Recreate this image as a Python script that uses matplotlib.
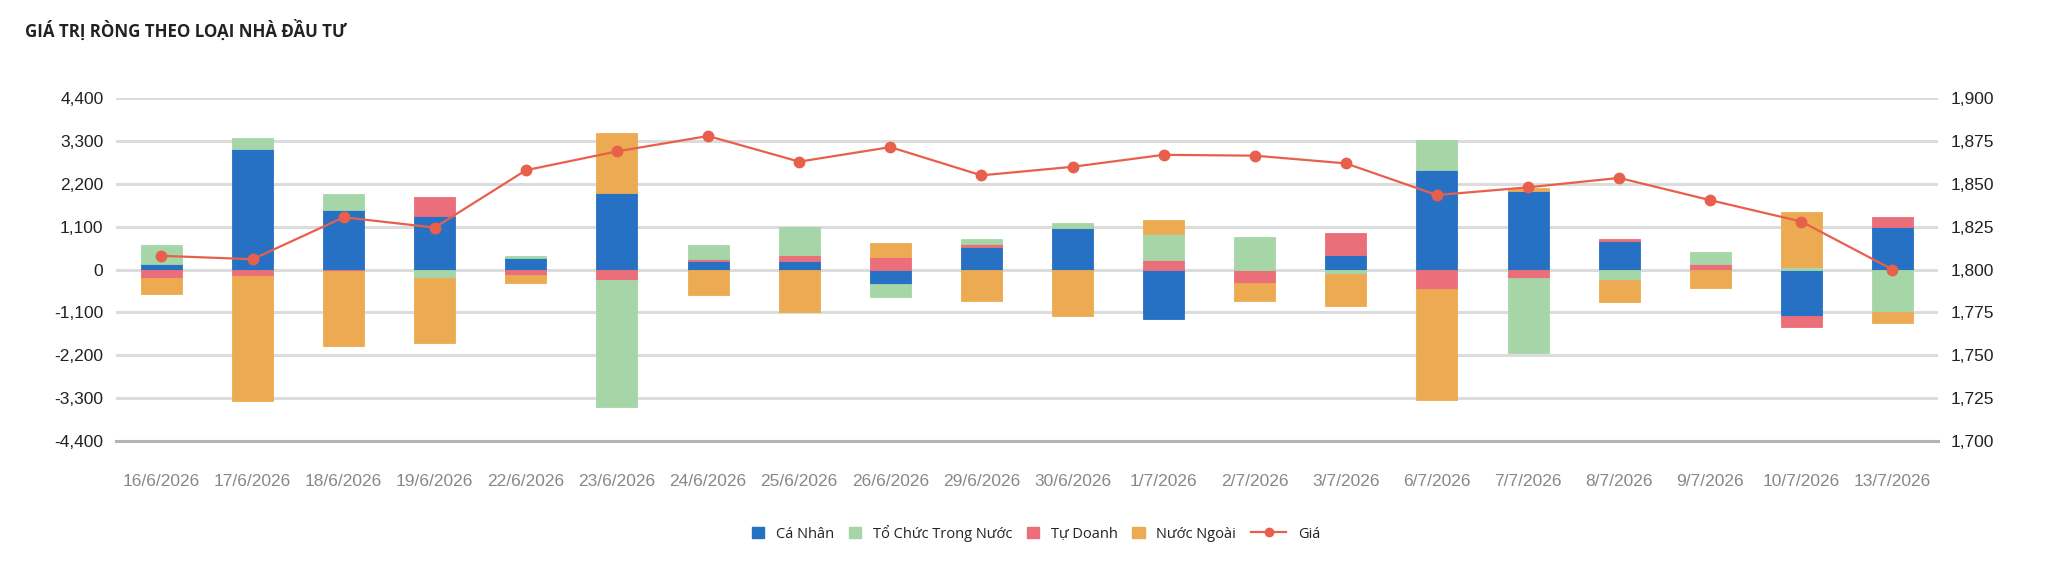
import numpy as np
import matplotlib
matplotlib.use("Agg")
import matplotlib.pyplot as plt
from matplotlib.lines import Line2D
from matplotlib.patches import Patch
from matplotlib.ticker import FuncFormatter, FixedLocator

# data (ty dong)
dates = ["16/6/2026", "17/6/2026", "18/6/2026", "19/6/2026", "22/6/2026",
         "23/6/2026", "24/6/2026", "25/6/2026", "26/6/2026", "29/6/2026",
         "30/6/2026", "1/7/2026", "2/7/2026", "3/7/2026", "6/7/2026",
         "7/7/2026", "8/7/2026", "9/7/2026", "10/7/2026", "13/7/2026"]
ca_nhan = [137, 3085, 1525, 1380, 300, 1970, 223, 223, -368, 574,
           1062, -1285, -25, 361, 2561, 2013, 745, 0, -1190, 1092]
to_chuc = [505, 291, 428, -214, 51, -3257, 360, 720, -343, 128,
           137, 643, 840, -118, 771, -1928, -257, 322, 60, -1083]
tu_doanh = [-231, -163, -34, 488, -146, -274, 51, 137, 317, 86,
            0, 257, -330, 588, -514, -214, 40, 136, -290, 262]
nuoc_ngoai = [-411, -3213, -1928, -1663, -197, 1551, -643, -1097, 368, -814,
              -1208, 377, -465, -823, -2836, 77, -591, -486, 1412, -296]
gia = [1808, 1806, 1830.5, 1824.5, 1858, 1869, 1878, 1863, 1871.5, 1855,
       1860, 1867, 1866.5, 1862, 1843.5, 1848, 1853.5, 1840.5, 1828, 1800]

left_ticks = [-4400, -3300, -2200, -1100, 0, 1100, 2200, 3300, 4400]
right_ticks = [1700, 1725, 1750, 1775, 1800, 1825, 1850, 1875, 1900]

c_blue = "#2771c4"
c_green = "#a6d6a8"
c_pink = "#eb6f7b"
c_orange = "#ecab52"
c_line = "#e8604c"

tick_font = "Liberation Sans"
text_font = ["Open Sans", "DejaVu Sans"]

W, H = 2048, 575
fig = plt.figure(figsize=(W / 100, H / 100), dpi=100, facecolor="w")
ax = fig.add_axes([0.0566, 0.2336, 0.8897, 0.5954])
ax2 = ax.twinx()

x = np.arange(len(dates))
w = 0.45

# stacking from zero outwards: Ca Nhan, Tu Doanh, To Chuc, Nuoc Ngoai
stack = [(ca_nhan, c_blue), (tu_doanh, c_pink), (to_chuc, c_green), (nuoc_ngoai, c_orange)]
pos_base = np.zeros(len(dates))
neg_base = np.zeros(len(dates))
for vals, col in stack:
    v = np.array(vals, dtype=float)
    bottom = np.where(v >= 0, pos_base, neg_base)
    ax.bar(x, v, w, bottom=bottom, color=col, edgecolor=col, linewidth=0.6, zorder=2)
    pos_base = pos_base + np.where(v > 0, v, 0)
    neg_base = neg_base + np.where(v < 0, v, 0)

ax.set_xlim(-0.5, len(dates) - 0.5)
ax.set_ylim(-4400, 4400)
ax.yaxis.set_major_locator(FixedLocator(left_ticks))
ax.yaxis.set_major_formatter(FuncFormatter(lambda v, p: f"{int(v):,}"))
ax.grid(True, axis="y", color="#dcdcdc", linewidth=2.2, zorder=0)
ax.set_axisbelow(True)
ax.set_xticks(x)
ax.set_xticklabels(dates)

ax2.plot(x, gia, color=c_line, linewidth=1.6, marker="o", markersize=7.5, zorder=3)
ax2.set_ylim(1700, 1900)
ax2.yaxis.set_major_locator(FixedLocator(right_ticks))
ax2.yaxis.set_major_formatter(FuncFormatter(lambda v, p: f"{int(v):,}"))

for a in (ax, ax2):
    for s in a.spines.values():
        s.set_visible(False)
ax.axhline(-4400, color="#b4b4b4", linewidth=2.2, zorder=1, clip_on=False)

ax.tick_params(axis="y", length=0, pad=9, labelsize=12.5, labelcolor="#222222")
ax2.tick_params(axis="y", length=0, pad=9, labelsize=12.5, labelcolor="#222222")
ax.tick_params(axis="x", length=0, pad=24, labelsize=12.5, labelcolor="#888888")
for lbl in ax.get_xticklabels() + ax.get_yticklabels() + ax2.get_yticklabels():
    lbl.set_fontfamily(tick_font)

fig.text(25 / W, 1 - 30.5 / H, "GIÁ TRỊ RÒNG THEO LOẠI NHÀ ĐẦU TƯ",
         fontsize=12.2, fontweight="bold", color="#222222", family=text_font,
         va="center", ha="left")

# legend: squares for the bars, a longer line sample for the price
bar_handles = [Patch(color=c_blue, label="Cá Nhân"),
               Patch(color=c_green, label="Tổ Chức Trong Nước"),
               Patch(color=c_pink, label="Tự Doanh"),
               Patch(color=c_orange, label="Nước Ngoài")]
line_handle = Line2D([], [], color=c_line, linewidth=1.6, marker="o", markersize=6, label="Giá")
leg_y = 1 - 533 / H
common = dict(loc="center left", frameon=False, borderpad=0, borderaxespad=0,
              handleheight=0.85, handletextpad=0.8,
              prop={"family": text_font, "size": 10.5}, labelcolor="#222222")
leg1 = fig.legend(handles=bar_handles, bbox_to_anchor=(0.3, leg_y), ncol=4,
                  handlelength=0.85, columnspacing=1.0, **common)
leg2 = fig.legend(handles=[line_handle], bbox_to_anchor=(0.6, leg_y),
                  handlelength=2.4, **common)

fig.canvas.draw()
r = fig.canvas.get_renderer()
w1 = leg1.get_window_extent(r).width
w2 = leg2.get_window_extent(r).width
t1 = leg1.get_texts()[0].get_window_extent(r)
t2 = leg2.get_texts()[0].get_window_extent(r)
dy = (t1.y0 + t1.y1) / 2 - (t2.y0 + t2.y1) / 2
gap = 15
x0 = 1036 - (w1 + gap + w2) / 2
leg1.set_bbox_to_anchor((x0 / W, leg_y))
leg2.set_bbox_to_anchor(((x0 + w1 + gap) / W, leg_y + dy / H))

fig.savefig("out.png", dpi=100, facecolor="w")
